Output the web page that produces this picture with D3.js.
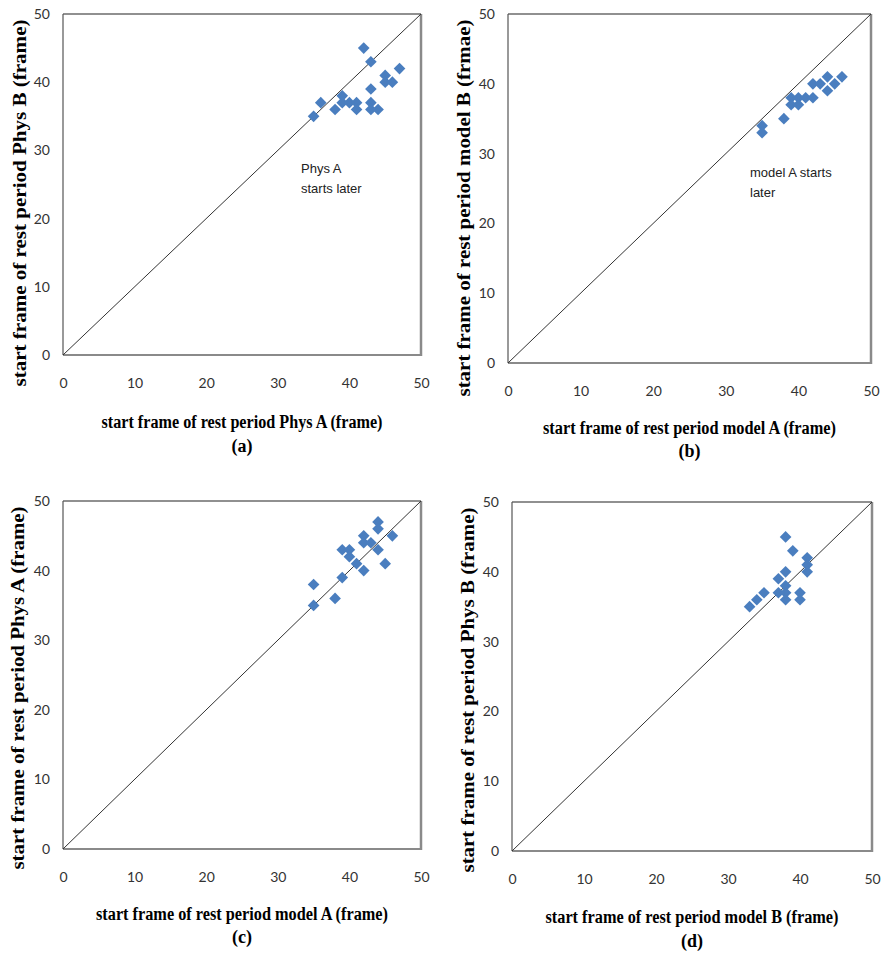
<!DOCTYPE html>
<html>
  <head>
    <title>Rest period start frames</title>
    <script src="https://d3js.org/d3.v7.min.js"></script>
    <style>
      body { margin: 0; background: #fff; }
      svg { display: block; }
    </style>
  </head>
  <body>
    <div id="graph-container"></div>
    <script>
      // tick values shared by all four panels
      const tickValues = [0, 10, 20, 30, 40, 50];

      // (a) Phys A vs Phys B
      const aX = [42, 43, 47, 45, 45, 46, 43, 39, 39, 36, 40, 41, 41, 43, 43, 44, 38, 35];
      const aY = [45, 43, 42, 41, 40, 40, 39, 38, 37, 37, 37, 37, 36, 37, 36, 36, 36, 35];

      // (b) model A vs model B
      const bX = [35, 35, 38, 39, 39, 40, 40, 41, 42, 42, 43, 44, 44, 45, 46];
      const bY = [34, 33, 35, 38, 37, 38, 37, 38, 38, 40, 40, 41, 39, 40, 41];

      // (c) model A vs Phys A
      const cX = [35, 35, 38, 39, 39, 40, 40, 41, 42, 42, 42, 43, 44, 44, 44, 45, 46];
      const cY = [38, 35, 36, 39, 43, 43, 42, 41, 45, 44, 40, 44, 47, 46, 43, 41, 45];

      // (d) model B vs Phys B
      const dX = [33, 34, 35, 37, 37, 38, 38, 38, 38, 38, 39, 40, 40, 41, 41, 41];
      const dY = [35, 36, 37, 39, 37, 45, 40, 38, 37, 36, 43, 37, 36, 42, 41, 40];

      const panels = [
        { xs: aX, ys: aY, left: 63, right: 421, top: 14, bottom: 355,
          xTitle: "start frame of rest period Phys A (frame)", xTitleW: 281, xTitleY: 428,
          yTitle: "start frame of rest period Phys B (frame)", yTitleW: 367, yTitleX: 20, yTitleC: 203,
          label: "(a)", labelY: 452, note: ["Phys A", "starts later"], noteX: 301, noteY: 173 },
        { xs: bX, ys: bY, left: 508, right: 871, top: 14, bottom: 363,
          xTitle: "start frame of rest period model A (frame)", xTitleW: 293, xTitleY: 434,
          yTitle: "start frame of rest period model B (frmae)", yTitleW: 377, yTitleX: 464, yTitleC: 208,
          label: "(b)", labelY: 457, note: ["model A starts", "later"], noteX: 750, noteY: 177 },
        { xs: cX, ys: cY, left: 63, right: 421, top: 501, bottom: 849,
          xTitle: "start frame of rest period model A (frame)", xTitleW: 292, xTitleY: 920,
          yTitle: "start frame of rest period Phys A (frame)", yTitleW: 363, yTitleX: 18, yTitleC: 688,
          label: "(c)", labelY: 943, note: null },
        { xs: dX, ys: dY, left: 512, right: 872, top: 502, bottom: 851,
          xTitle: "start frame of rest period model B (frame)", xTitleW: 293, xTitleY: 923,
          yTitle: "start frame of rest period Phys B (frame)", yTitleW: 365, yTitleX: 468, yTitleC: 690,
          label: "(d)", labelY: 947, note: null }
      ];

      const svg = d3.select("#graph-container")
        .append("svg")
        .attr("width", 882)
        .attr("height", 954);

      const diamond = d3.symbol().type(d3.symbolSquare).size(68);

      panels.forEach(function (p) {
        const x = d3.scaleLinear().domain([0, 50]).range([p.left, p.right]);
        const y = d3.scaleLinear().domain([0, 50]).range([p.bottom, p.top]);
        const g = svg.append("g");

        // frame
        g.append("line").attr("x1", p.left).attr("x2", p.right).attr("y1", p.top).attr("y2", p.top)
          .attr("stroke", "#222").attr("stroke-width", 1.2);
        g.append("line").attr("x1", p.left).attr("x2", p.left).attr("y1", p.top).attr("y2", p.bottom)
          .attr("stroke", "#555").attr("stroke-width", 1.2);
        g.append("line").attr("x1", p.right).attr("x2", p.right).attr("y1", p.top).attr("y2", p.bottom + 1)
          .attr("stroke", "#8a8a8a").attr("stroke-width", 2.5);
        g.append("line").attr("x1", p.left).attr("x2", p.right).attr("y1", p.bottom).attr("y2", p.bottom)
          .attr("stroke", "#8a8a8a").attr("stroke-width", 2);

        // axes (labels only)
        const xAxis = g.append("g")
          .attr("transform", "translate(0," + p.bottom + ")")
          .call(d3.axisBottom(x).tickValues(tickValues).tickSize(0).tickPadding(23));
        const yAxis = g.append("g")
          .attr("transform", "translate(" + p.left + ",0)")
          .call(d3.axisLeft(y).tickValues(tickValues).tickSize(0).tickPadding(13));
        [xAxis, yAxis].forEach(function (ax) {
          ax.select(".domain").remove();
          ax.selectAll("text")
            .attr("font-family", "Lato, 'Open Sans', sans-serif")
            .attr("font-size", 14)
            .attr("fill", "#333");
        });

        // 1:1 line
        g.append("line")
          .attr("x1", x(0)).attr("y1", y(0))
          .attr("x2", x(50)).attr("y2", y(50))
          .attr("stroke", "#333").attr("stroke-width", 1);

        // points
        g.selectAll(".point")
          .data(d3.range(p.xs.length))
          .enter()
          .append("path")
          .attr("d", diamond)
          .attr("transform", i => "translate(" + x(p.xs[i]) + "," + y(p.ys[i]) + ") rotate(45)")
          .attr("fill", "#4a7ebf");

        // titles
        const cx = (p.left + p.right) / 2;
        g.append("text")
          .attr("x", cx).attr("y", p.xTitleY)
          .attr("text-anchor", "middle")
          .attr("font-family", "'Liberation Serif', 'Times New Roman', serif")
          .attr("font-weight", "bold").attr("font-size", 18)
          .attr("textLength", p.xTitleW).attr("lengthAdjust", "spacingAndGlyphs")
          .text(p.xTitle);
        g.append("text")
          .attr("x", cx).attr("y", p.labelY)
          .attr("text-anchor", "middle")
          .attr("font-family", "'Liberation Serif', 'Times New Roman', serif")
          .attr("font-weight", "bold").attr("font-size", 18)
          .text(p.label);
        g.append("text")
          .attr("transform", "translate(" + (p.yTitleX + 6) + "," + p.yTitleC + ") rotate(-90)")
          .attr("text-anchor", "middle")
          .attr("font-family", "'Liberation Serif', 'Times New Roman', serif")
          .attr("font-weight", "bold").attr("font-size", 19)
          .attr("textLength", p.yTitleW).attr("lengthAdjust", "spacingAndGlyphs")
          .text(p.yTitle);

        // annotation
        if (p.note) {
          p.note.forEach(function (line, k) {
            g.append("text")
              .attr("x", p.noteX).attr("y", p.noteY + k * 20)
              .attr("font-family", "'Liberation Sans', Arial, sans-serif")
              .attr("font-size", 13)
              .attr("fill", "#222")
              .text(line);
          });
        }
      });
    </script>
  </body>
</html>
